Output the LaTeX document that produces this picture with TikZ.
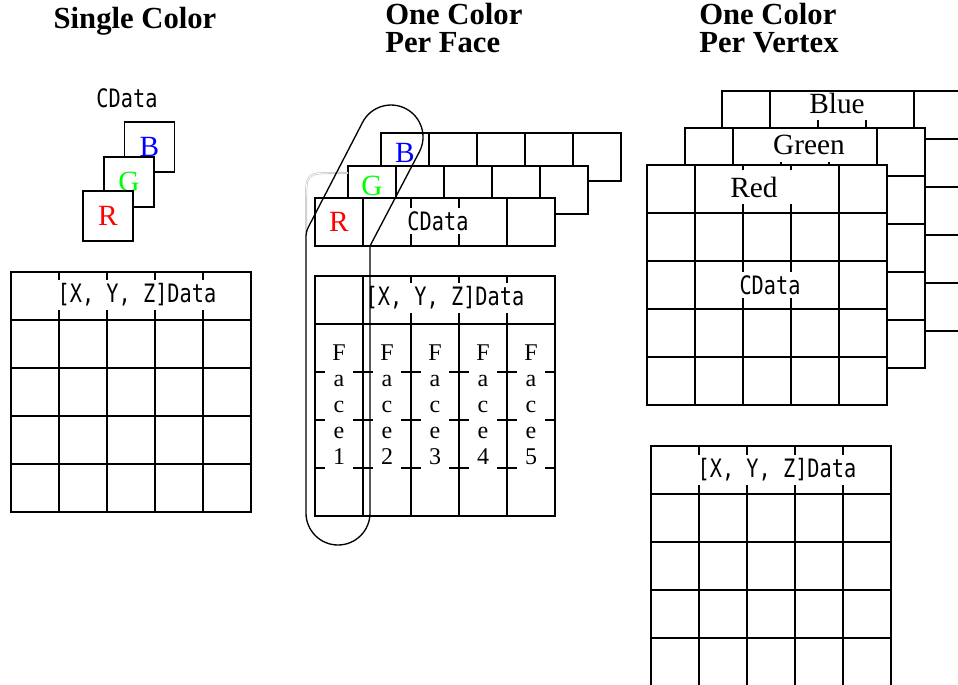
\documentclass[tikz,border=0pt]{standalone}
\usepackage{fontspec}
\setmainfont{Liberation Serif}
\newfontfamily\codefont[FakeStretch=0.8]{DejaVu Sans Mono}
\definecolor{pureR}{RGB}{255,0,0}
\definecolor{pureG}{RGB}{0,255,0}
\definecolor{pureB}{RGB}{0,0,255}

\begin{document}
\begin{tikzpicture}[
    x=0.75pt, y=-0.75pt,
    gridline/.style={line width=1pt},
    title/.style={font=\fontsize{23}{21}\selectfont\bfseries, inner sep=0pt, align=left},
    code/.style={font=\codefont\fontsize{19}{22}\selectfont, fill=white,
        inner xsep=1pt, inner ysep=2.5pt},
    chan/.style={font=\fontsize{22}{26}\selectfont, inner sep=1pt},
    layer/.style={chan, fill=white, minimum width=57pt, inner ysep=5pt},
    sq/.style={draw, line width=1pt, fill=white, minimum size=37.5pt,
        inner sep=0pt, font=\fontsize{22}{26}\selectfont},
    face/.style={fill=white, align=center, minimum width=21pt,
        inner xsep=1pt, inner ysep=5pt, font=\fontsize{18}{19.5}\selectfont},
    faceloop/.style={line width=1pt},
]
\useasboundingbox (0,0) rectangle (958,685);
\clip (0,0) rectangle (958,685);

% --- Titles -------------------------------------------------
\node[title, anchor=base] (tSingle) at (135,29) {Single Color};
\node[title, anchor=north west] (tFace) at (385,3) {One Color\\Per Face};
\node[title, anchor=north west] (tVertex) at (699,3) {One Color\\Per Vertex};

% --- Single color -------------------------------------------
\node[code, anchor=base] (cdSingle) at (127,108) {CData};
\node[sq, text=pureB] (sqB) at (149.5,147) {B};
\node[sq, text=pureG] (sqG) at (129,182) {G};
\node[sq, text=pureR] (sqR) at (108,216) {R};

% --- [X,Y,Z]Data grids --------------------------------------
\foreach \gx/\gy in {11/272, 315/276, 651/446} {
    \draw[gridline, fill=white] (\gx,\gy) rectangle ++(240,240);
    \foreach \k in {1,...,4} {
        \draw[gridline] (\gx+48*\k,\gy) -- ++(0,240);
        \draw[gridline] (\gx,\gy+48*\k) -- ++(240,0);
    }
}
\node[code] (xyzSingle) at (137,295) {[X, Y, Z]Data};
\node[code] (xyzFace) at (445,298) {[X, Y, Z]Data};
\node[code] (xyzVertex) at (777,470) {[X, Y, Z]Data};

\foreach \k in {1,...,5}
    \node[face] (face\k) at (291+48*\k,405) {F\\a\\c\\e\\\k};

% --- One color per face: CData strips -----------------------
\foreach \sx/\sy/\lab/\col/\ly in {381/133/B/pureB/153, 348/166/G/pureG/186, 315/198/R/pureR/222} {
    \draw[gridline, fill=white] (\sx,\sy) rectangle ++(240,48);
    \foreach \k in {1,...,4}
        \draw[gridline] (\sx+48*\k,\sy) -- ++(0,48);
    \node[chan, text=\col] (strip\lab) at (\sx+24,\ly) {\lab};
}
\node[code] (cdFace) at (438,221) {CData};

% --- One color per vertex: stacked CData grids --------------
\foreach \gx/\gy/\lab/\lx/\ly in {722/91/Blue/837/103, 685/128/Green/809/145, 647/165/Red/754/187} {
    \draw[gridline, fill=white] (\gx,\gy) rectangle ++(240,240);
    \foreach \k in {1,...,4} {
        \draw[gridline] (\gx+48*\k,\gy) -- ++(0,240);
        \draw[gridline] (\gx,\gy+48*\k) -- ++(240,0);
    }
    \node[layer] (lay\lab) at (\lx,\ly) {\lab};
    \draw[gridline] (\gx,\gy) rectangle ++(240,240);
}
\node[code] (cdVertex) at (770,285) {CData};

% --- Face 1 outline -----------------------------------------
\draw[gray!55, line width=0.4pt, double=white, double distance=0.7pt]
    (348,173) -- (336,173) .. controls (306,173) .. (306,203) -- (306,232);
\draw[faceloop] (370,246) -- (370,513) arc(0:180:32) -- (306,240)
    .. controls (306,232) .. (309.7,224.5) -- (362.6,122.3)
    arc(207.4:387.4:32) -- cycle;

\end{tikzpicture}
\end{document}
